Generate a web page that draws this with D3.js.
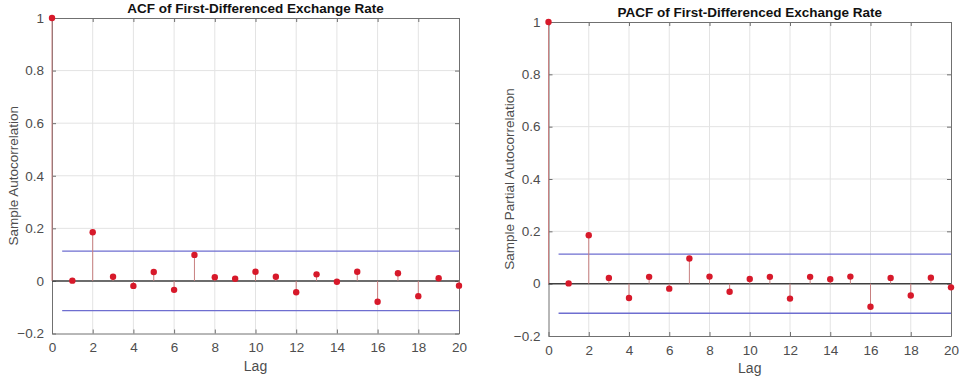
<!DOCTYPE html>
<html lang="en">
<head>
    <meta charset="UTF-8">
    <title>ACF / PACF</title>
    <script src="https://d3js.org/d3.v7.min.js"></script>
<style>
    body { margin: 0; background: #fff; }
    text { font-family: "Liberation Sans", Arial, sans-serif; }
    .tick text { fill: #4d4d4d; font-size: 13.5px; }
    .grid line { stroke: #e3e3e3; stroke-width: 1px; }
    .stem { stroke: #c88080; stroke-width: 1px; }
    .dot { fill: #d7192a; }
</style>
</head>
<body>
    <svg id="canvas" width="959" height="379"></svg>

    <script>
        var lags = d3.range(0, 21);
        var acfValues = [1, 0.001, 0.185, 0.016, -0.019, 0.034, -0.034, 0.099, 0.014, 0.008, 0.035,
                         0.016, -0.043, 0.025, -0.003, 0.035, -0.079, 0.029, -0.058, 0.010, -0.018];
        var pacfValues = [1, 0.001, 0.185, 0.022, -0.055, 0.026, -0.019, 0.096, 0.027, -0.031, 0.018,
                          0.026, -0.057, 0.026, 0.017, 0.027, -0.088, 0.022, -0.045, 0.023, -0.014];
        var bound = 0.113;
        var xTicks = [0, 2, 4, 6, 8, 10, 12, 14, 16, 18, 20];
        var yTicks = [-0.2, 0, 0.2, 0.4, 0.6, 0.8, 1];

        var svg = d3.select('svg');

        function panel(opts) {
            var x = d3.scaleLinear().domain([0, 20]).range([opts.x0, opts.x1]);
            var y = d3.scaleLinear().domain([-0.2, 1]).range([opts.y1, opts.y0]);
            var g = svg.append("g");

            // grid
            var grid = g.append("g").attr("class", "grid");
            grid.selectAll(".gx").data(xTicks.slice(1, -1)).enter().append("line")
                .attr("x1", function(d){ return x(d); }).attr("x2", function(d){ return x(d); })
                .attr("y1", opts.y0).attr("y2", opts.y1);
            grid.selectAll(".gy").data(yTicks.slice(1, -1)).enter().append("line")
                .attr("y1", function(d){ return y(d); }).attr("y2", function(d){ return y(d); })
                .attr("x1", opts.x0).attr("x2", opts.x1);

            // axes (ticks inside, like matlab)
            var xAxis = g.append("g").attr("transform", "translate(0," + opts.y1 + ")")
                .call(d3.axisBottom(x).tickValues(xTicks).tickSizeInner(-4).tickSizeOuter(0)
                    .tickPadding(9).tickFormat(d3.format("d")));
            var xTop = g.append("g").attr("transform", "translate(0," + opts.y0 + ")")
                .call(d3.axisTop(x).tickValues(xTicks).tickSizeInner(-4).tickSizeOuter(0).tickFormat(""));
            var yAxis = g.append("g").attr("transform", "translate(" + opts.x0 + ",0)")
                .call(d3.axisLeft(y).tickValues(yTicks).tickSizeInner(-4).tickSizeOuter(0)
                    .tickPadding(8).tickFormat(function(d){ return d === 0 ? "0" : d3.format("")(+d.toFixed(1)); }));
            var yRight = g.append("g").attr("transform", "translate(" + opts.x1 + ",0)")
                .call(d3.axisRight(y).tickValues(yTicks).tickSizeInner(-4).tickSizeOuter(0).tickFormat(""));
            [xAxis, xTop, yAxis, yRight].forEach(function(a) {
                a.select(".domain").attr("stroke", "#707070");
                a.selectAll(".tick line").attr("stroke", "#707070");
            });

            // zero line
            g.append("line").attr("x1", opts.x0).attr("x2", opts.x1)
                .attr("y1", y(0)).attr("y2", y(0))
                .attr("stroke", "#404040").attr("stroke-width", 1.5);

            // confidence bounds
            [bound, -bound].forEach(function(b) {
                g.append("line").attr("x1", x(0.5)).attr("x2", x(20))
                    .attr("y1", y(b)).attr("y2", y(b))
                    .attr("stroke", "#6e6ed0").attr("stroke-width", 1.3);
            });

            // stems
            g.selectAll(".stem").data(opts.values).enter().append("line")
                .attr("class", "stem")
                .attr("x1", function(d, i){ return x(lags[i]); })
                .attr("x2", function(d, i){ return x(lags[i]); })
                .attr("y1", y(0))
                .attr("y2", function(d){ return y(d); });
            g.selectAll(".dot").data(opts.values).enter().append("circle")
                .attr("class", "dot")
                .attr("cx", function(d, i){ return x(lags[i]); })
                .attr("cy", function(d){ return y(d); })
                .attr("r", 3.2);

            // labels
            g.append("text").text(opts.title)
                .attr("x", (opts.x0 + opts.x1) / 2).attr("y", opts.y0 - 5)
                .attr("text-anchor", "middle").attr("font-weight", "bold")
                .attr("font-size", 13.5).attr("fill", "#111");
            g.append("text").text("Lag")
                .attr("x", (opts.x0 + opts.x1) / 2).attr("y", opts.y1 + 37)
                .attr("text-anchor", "middle").attr("font-size", 14).attr("fill", "#4d4d4d");
            g.append("text").text(opts.ylabel)
                .attr("transform", "translate(" + opts.ylx + "," + ((opts.y0 + opts.y1) / 2) + ") rotate(-90)")
                .attr("text-anchor", "middle").attr("font-size", 13.5).attr("fill", "#4d4d4d");
        }

        panel({x0: 52, x1: 459, y0: 18, y1: 333.5, values: acfValues,
               title: "ACF of First-Differenced Exchange Rate",
               ylabel: "Sample Autocorrelation", ylx: 18});
        panel({x0: 548.5, x1: 951, y0: 22, y1: 336, values: pacfValues,
               title: "PACF of First-Differenced Exchange Rate",
               ylabel: "Sample Partial Autocorrelation", ylx: 514});
    </script>
</body>
</html>
